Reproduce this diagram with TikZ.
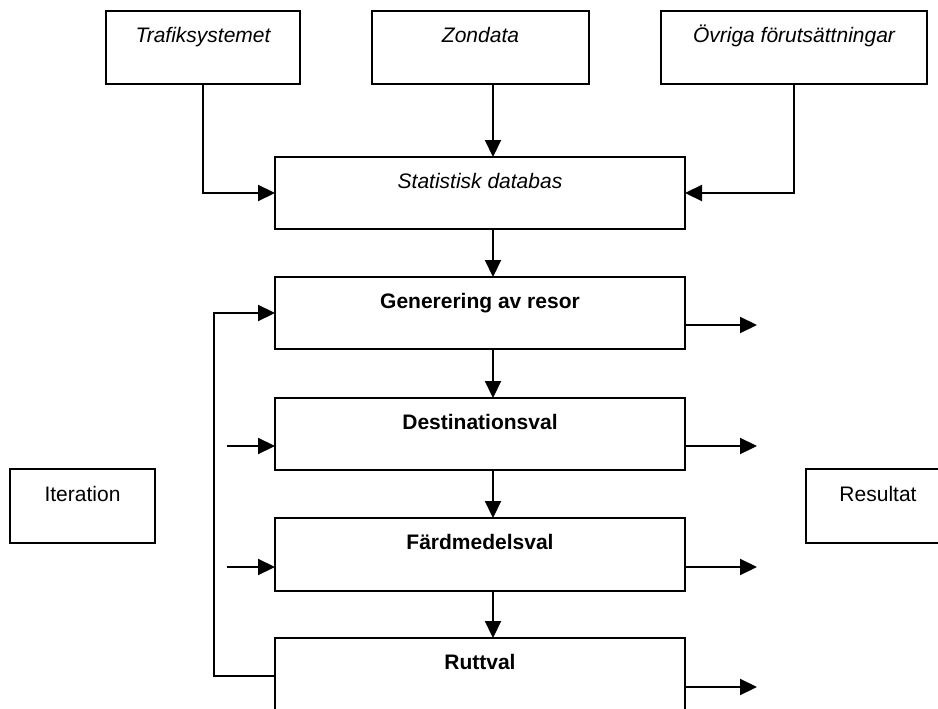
\documentclass[tikz,border=0pt]{standalone}
\usepackage{fontspec}
\setmainfont{Liberation Sans}
\usetikzlibrary{arrows.meta}
\begin{document}
\begin{tikzpicture}[x=1pt,y=-1pt, line width=2.2pt,
  box/.style={draw, inner sep=0pt, outer sep=0pt},
  lbl/.style={font=\fontsize{21}{25}\selectfont, inner sep=0pt, anchor=base},
  arr/.style={-{Triangle[length=17pt,width=16pt]}}]
\useasboundingbox (0,0) rectangle (938,709);
\clip (0,0) rectangle (938,709);
% boxes
\node[box, minimum width=194pt, minimum height=73pt] (tf) at (203,47.5) {};
\node[box, minimum width=217pt, minimum height=73pt] (zd) at (480.5,47.5) {};
\node[box, minimum width=266pt, minimum height=73pt] (ov) at (794,47.5) {};
\node[box, minimum width=410pt, minimum height=72pt] (sd) at (480,193) {};
\node[box, minimum width=410pt, minimum height=72pt] (gen) at (480,313) {};
\node[box, minimum width=410pt, minimum height=72pt] (dest) at (480,434) {};
\node[box, minimum width=410pt, minimum height=73pt] (fard) at (480,554.5) {};
\node[box, minimum width=410pt, minimum height=90pt] (rutt) at (480,683) {};
\node[box, minimum width=145pt, minimum height=74pt] (it) at (82.5,506) {};
\node[box, minimum width=144pt, minimum height=74pt] (res) at (878,506) {};
% labels
\node[lbl] (tft) at ([yshift=-32pt]tf.north) {\itshape Trafiksystemet};
\node[lbl] (zdt) at ([yshift=-32pt]zd.north) {\itshape Zondata};
\node[lbl] (ovt) at ([yshift=-32pt]ov.north) {\itshape Övriga förutsättningar};
\node[lbl] (sdt) at ([yshift=-31pt]sd.north) {\itshape Statistisk databas};
\node[lbl] (gent) at ([yshift=-31pt]gen.north) {\bfseries Generering av resor};
\node[lbl] (destt) at ([yshift=-31pt]dest.north) {\bfseries Destinationsval};
\node[lbl] (fardt) at ([yshift=-31pt]fard.north) {\bfseries Färdmedelsval};
\node[lbl] (ruttt) at ([yshift=-31pt]rutt.north) {\bfseries Ruttval};
\node[lbl] (itt) at ([yshift=-32pt]it.north) {Iteration};
\node[lbl] (rest) at ([yshift=-32pt]res.north) {Resultat};
% coordinates
\coordinate (xa) at (493,0);
\coordinate (fbk) at (214,676);
\coordinate (in1) at (227,446);
\coordinate (in2) at (227,567);
\coordinate (o1) at (757,325);
\coordinate (o2) at (757,446);
\coordinate (o3) at (757,567);
\coordinate (o4) at (757,687);
% connectors
\draw[arr] (tf.south) |- (sd.west);
\draw[arr] (zd.south -| xa) -- (sd.north -| xa);
\draw[arr] (ov.south) |- (sd.east);
\draw[arr] (sd.south -| xa) -- (gen.north -| xa);
\draw[arr] (gen.south -| xa) -- (dest.north -| xa);
\draw[arr] (dest.south -| xa) -- (fard.north -| xa);
\draw[arr] (fard.south -| xa) -- (rutt.north -| xa);
\draw[arr] (rutt.west |- fbk) -- (fbk) |- (gen.west);
\draw[arr] (in1) -- (dest.west |- in1);
\draw[arr] (in2) -- (fard.west |- in2);
\draw[arr] (gen.east |- o1) -- (o1);
\draw[arr] (dest.east |- o2) -- (o2);
\draw[arr] (fard.east |- o3) -- (o3);
\draw[arr] (rutt.east |- o4) -- (o4);
\end{tikzpicture}
\end{document}
